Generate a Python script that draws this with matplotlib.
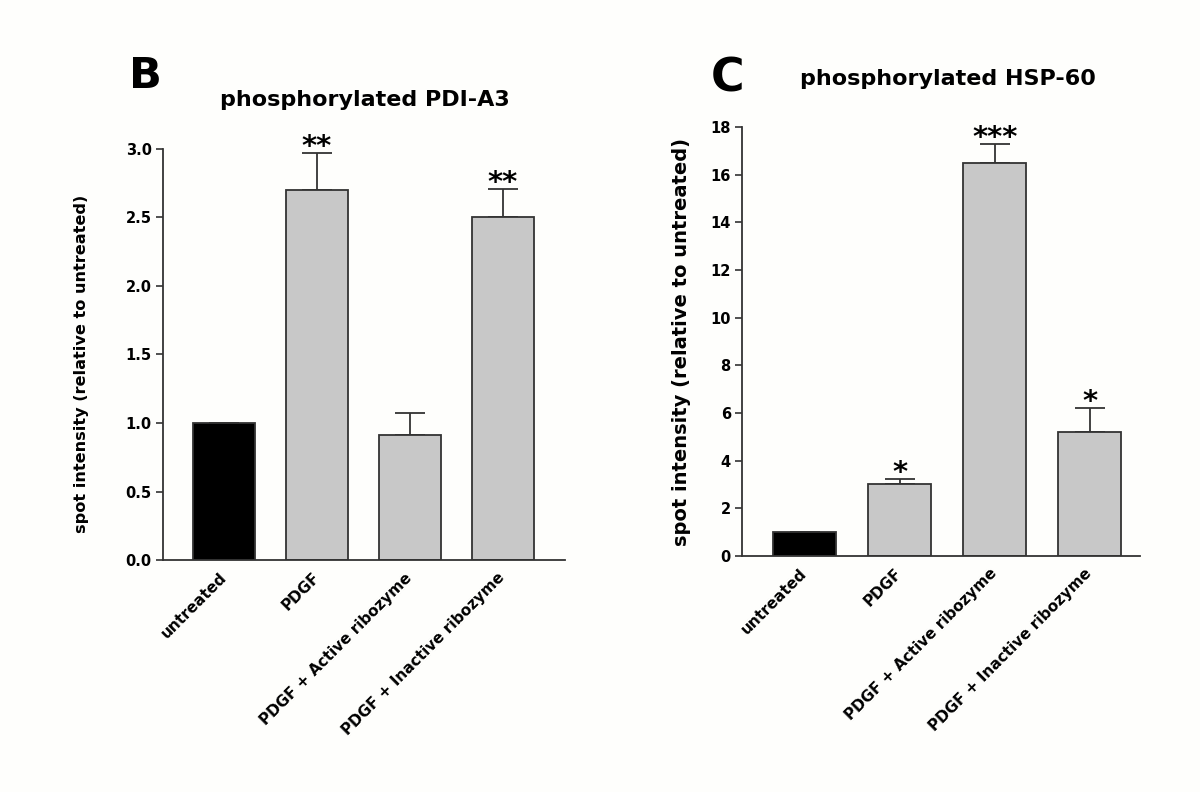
import matplotlib

matplotlib.use("Agg")
import matplotlib.pyplot as plt

# ==========================================
# Data
# ==========================================
CATEGORIES = ["untreated", "PDGF", "PDGF + Active ribozyme", "PDGF + Inactive ribozyme"]

PDI_MEANS = [1.0, 2.70, 0.91, 2.50]
PDI_SEM = [0.0, 0.27, 0.16, 0.21]
PDI_STARS = ["", "**", "", "**"]

HSP_MEANS = [1.0, 3.0, 16.5, 5.2]
HSP_SEM = [0.0, 0.25, 0.8, 1.03]
HSP_STARS = ["", "*", "***", "*"]

BG = "#fefefc"
EDGE = "#333333"
BAR_COLORS = ["black", "#c8c8c8", "#c8c8c8", "#c8c8c8"]

plt.rcParams["font.family"] = ["DejaVu Sans"]
plt.rcParams["font.weight"] = "bold"


def draw_panel(ax, means, sems, stars, ylim, yticks, fmt, xlim, label_pos, label_size):
    x = list(range(len(CATEGORIES)))
    ax.set_facecolor(BG)
    ax.bar(x, means, width=0.667, color=BAR_COLORS, edgecolor=EDGE, linewidth=1.3, zorder=2)
    # upper error bars only
    lower = [0] * len(means)
    ax.errorbar(x, means, yerr=[lower, sems], fmt="none", ecolor=EDGE,
                elinewidth=1.3, capsize=11, capthick=1.3, zorder=1)
    for xi, m, s, st in zip(x, means, sems, stars):
        if st:
            ax.annotate(st, (xi, m + s), xytext=(0, -6), textcoords="offset points",
                        ha="center", va="bottom", fontsize=21, fontweight="bold")

    ax.set_xlim(*xlim)
    ax.set_ylim(*ylim)
    ax.set_yticks(yticks)
    ax.set_yticklabels([fmt.format(v) for v in yticks], fontsize=10.5, fontweight="bold")
    ax.set_xticks(x)
    ax.set_xticklabels(CATEGORIES, rotation=45, ha="right", va="center",
                       rotation_mode="anchor", fontsize=11, fontweight="bold")
    ax.tick_params(axis="x", length=0, pad=11)
    ax.tick_params(axis="y", length=5, width=1.2, color=EDGE, pad=3)

    for side in ["top", "right"]:
        ax.spines[side].set_visible(False)
    for side in ["left", "bottom"]:
        ax.spines[side].set_color(EDGE)
        ax.spines[side].set_linewidth(1.3)

    ax.set_ylabel("spot intensity (relative to untreated)", fontsize=label_size, fontweight="bold")
    ax.yaxis.set_label_coords(*label_pos)


fig = plt.figure(figsize=(12, 7.92), dpi=100, facecolor=BG)

ax_b = fig.add_axes([0.1358, 0.2929, 0.335, 0.519])
draw_panel(ax_b, PDI_MEANS, PDI_SEM, PDI_STARS, (0, 3.0),
           [0.0, 0.5, 1.0, 1.5, 2.0, 2.5, 3.0], "{:.1f}",
           (-0.66, 3.67), (-0.183, 0.477), 11.6)

ax_c = fig.add_axes([0.6183, 0.298, 0.3317, 0.5416])
draw_panel(ax_c, HSP_MEANS, HSP_SEM, HSP_STARS, (0, 18),
           list(range(0, 19, 2)), "{:d}",
           (-0.66, 3.53), (-0.128, 0.50), 14)

# Titles and panel letters
fig.text(0.304, 0.874, "phosphorylated PDI-A3", ha="center", va="center", fontsize=16, fontweight="bold")
fig.text(0.790, 0.900, "phosphorylated HSP-60", ha="center", va="center", fontsize=16, fontweight="bold")
fig.text(0.1208, 0.8889, "B", ha="center", va="baseline", fontsize=31, fontweight="bold")
fig.text(0.6067, 0.8850, "C", ha="center", va="baseline", fontsize=33, fontweight="bold")

fig.savefig("out.png", dpi=100, facecolor=BG)
